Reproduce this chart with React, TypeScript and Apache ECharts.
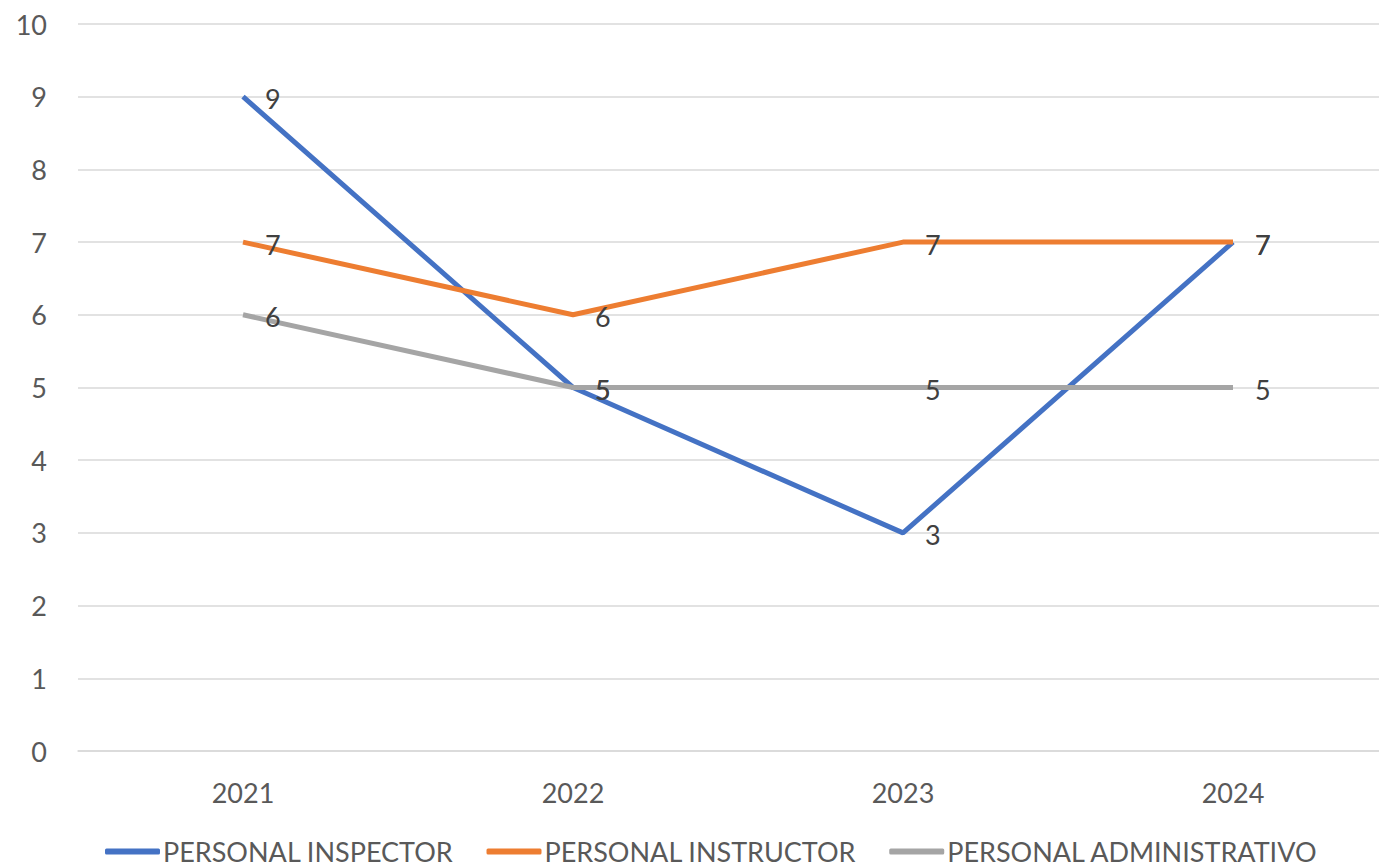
import React, { useEffect, useRef } from "react";
import * as echarts from "echarts";

const categories = ["2021", "2022", "2023", "2024"];
const seriesNames = ["PERSONAL INSPECTOR", "PERSONAL INSTRUCTOR", "PERSONAL ADMINISTRATIVO"];
const inspector = [9, 5, 3, 7];
const instructor = [7, 6, 7, 7];
const administrativo = [6, 5, 5, 5];
const colors = ["#4472C4", "#ED7D31", "#A5A5A5"];

const FONT = "Lato, 'Open Sans', sans-serif";
const FS = 27;

export default function App() {
  const ref = useRef<HTMLDivElement>(null);
  useEffect(() => {
    if (!ref.current) return;
    const chart = echarts.init(ref.current, undefined, { renderer: "svg" });
    const values = [inspector, instructor, administrativo];
    chart.setOption({
      animation: false,
      backgroundColor: "#ffffff",
      textStyle: { fontFamily: FONT },
      grid: { left: 78, top: 24, width: 1320, height: 727, outerBoundsMode: "none", containLabel: false },
      legend: {
        top: 838,
        left: 105,
        padding: 0,
        itemWidth: 55,
        itemHeight: 6,
        itemGap: 33,
        icon: "roundRect",
        textStyle: { fontSize: FS, color: "#595959", fontFamily: FONT, padding: [0, 0, 0, -2] },
        data: seriesNames,
      },
      xAxis: {
        type: "category",
        data: categories,
        boundaryGap: true,
        axisLine: { show: true, lineStyle: { color: "#D9D9D9", width: 1.5 } },
        axisTick: { show: false },
        axisLabel: { fontSize: FS, color: "#595959", margin: 28, fontFamily: FONT },
      },
      yAxis: {
        type: "value",
        min: 0,
        max: 10,
        interval: 1,
        axisLine: { show: false },
        axisTick: { show: false },
        splitLine: { lineStyle: { color: "#D9D9D9", width: 1.5 } },
        axisLabel: { fontSize: FS, color: "#595959", margin: 31, fontFamily: FONT },
      },
      series: seriesNames.map((name, i) => ({
        name,
        type: "line",
        data: values[i],
        symbol: "circle",
        symbolSize: 0,
        showSymbol: true,
        lineStyle: { color: colors[i], width: 5 },
        itemStyle: { color: colors[i] },
        label: {
          show: true,
          position: "right",
          distance: 22,
          fontSize: FS,
          color: "#404040",
          fontFamily: FONT,
          offset: [0, 2],
        },
      })),
    });
    return () => chart.dispose();
  }, []);
  return (
    <div
      ref={ref}
      style={{ position: "fixed", left: 0, top: 0, width: 1379, height: 868 }}
    />
  );
}
